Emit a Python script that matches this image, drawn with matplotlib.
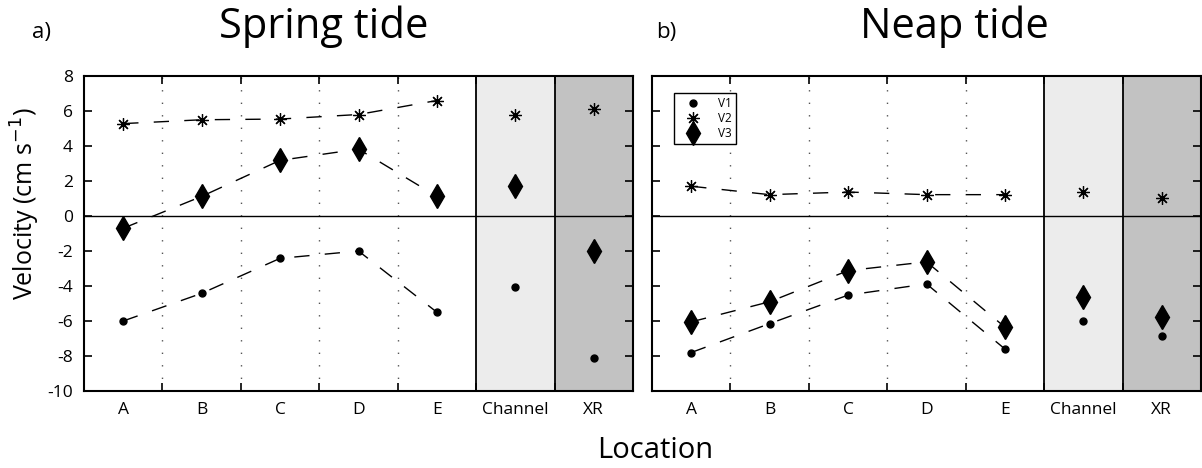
import matplotlib.pyplot as plt
from matplotlib.lines import Line2D

plt.rcParams['font.family'] = ['Open Sans', 'DejaVu Sans']
plt.rcParams['axes.unicode_minus'] = False

locations = ['A', 'B', 'C', 'D', 'E', 'Channel', 'XR']
pos = [1, 2, 3, 4, 5, 6, 7]

# spring tide
spring_v1 = [-6.0, -4.42, -2.42, -2.0, -5.5, -4.05, -8.12]
spring_v2 = [5.28, 5.5, 5.54, 5.8, 6.6, 5.75, 6.1]
spring_v3 = [-0.7, 1.12, 3.18, 3.82, 1.12, 1.73, -2.0]

# neap tide
neap_v1 = [-7.8, -6.15, -4.52, -3.88, -7.6, -6.0, -6.85]
neap_v2 = [1.7, 1.22, 1.37, 1.22, 1.22, 1.35, 1.05]
neap_v3 = [-6.05, -4.9, -3.12, -2.62, -6.35, -4.62, -5.77]

W, H = 1202, 468
fig = plt.figure(figsize=(W / 100, H / 100), dpi=100)
ax1 = fig.add_axes([84 / W, (H - 391) / H, 549 / W, 315 / H])
ax2 = fig.add_axes([652 / W, (H - 391) / H, 549 / W, 315 / H])

star = (8, 2, 0)
dash = (0, (11, 11))


def draw(ax, v1, v2, v3, labels):
    ax.axvspan(5.5, 6.5, color='#ececec', zorder=0)
    ax.axvspan(6.5, 7.5, color='#c2c2c2', zorder=0)
    for b in [1.5, 2.5, 3.5, 4.5]:
        ax.axvline(b, color='#555555', lw=1.0, linestyle=(0, (1, 8)), zorder=1)
    for b in [5.5, 6.5]:
        ax.axvline(b, color='black', lw=1.3, zorder=1)
    ax.axhline(0, color='black', lw=1.0, zorder=1)

    # dashed lines only through A..E
    for v in (v1, v2, v3):
        ax.plot(pos[:5], v[:5], color='black', lw=1.0, linestyle=dash, zorder=2)
    ax.plot(pos, v1, 'o', color='black', ms=5, linestyle='none', zorder=3)
    ax.plot(pos, v2, marker=star, color='black', ms=9, mew=0.9, linestyle='none', zorder=3)
    ax.plot(pos, v3, 'd', color='black', ms=12, linestyle='none', zorder=3)

    ax.set_xlim(0.5, 7.5)
    ax.set_ylim(-10, 8)
    ax.set_yticks(range(-10, 9, 2))
    ax.set_xticks([1.5, 2.5, 3.5, 4.5, 5.5, 6.5])
    ax.set_xticklabels([])
    ax.set_xticks(pos, minor=True)
    ax.set_xticklabels(locations, minor=True)
    ax.tick_params(which='major', direction='in', top=True, right=True,
                   length=6, width=1.2, labelsize=12.5, pad=8)
    ax.tick_params(which='minor', length=0, labelsize=12.5, pad=8)
    if not labels:
        ax.set_yticklabels([])
    for s in ax.spines.values():
        s.set_linewidth(1.5)


draw(ax1, spring_v1, spring_v2, spring_v3, True)
draw(ax2, neap_v1, neap_v2, neap_v3, False)

handles = [
    Line2D([], [], marker='o', color='black', ms=5, linestyle='none'),
    Line2D([], [], marker=star, color='black', ms=9, mew=0.9, linestyle='none'),
    Line2D([], [], marker='d', color='black', ms=12, linestyle='none'),
]
leg = ax2.legend(handles, ['V1', 'V2', 'V3'], loc='upper left',
                 bbox_to_anchor=(0.04, 0.946), borderaxespad=0, fontsize=8.5,
                 fancybox=False, framealpha=1, edgecolor='black',
                 handletextpad=0.8, labelspacing=0.15, borderpad=0.35,
                 handlelength=2.6)
leg.get_frame().set_linewidth(1.0)

fig.text(42 / W, 1 - 38 / H, 'a)', fontsize=16, ha='center', va='baseline')
fig.text(324 / W, 1 - 38 / H, 'Spring tide', fontsize=30, ha='center', va='baseline')
fig.text(666 / W, 1 - 38 / H, 'b)', fontsize=16, ha='center', va='baseline')
fig.text(954 / W, 1 - 38 / H, 'Neap tide', fontsize=30, ha='center', va='baseline')
fig.text(25 / W, 1 - 204 / H, 'Velocity (cm s$^{-1}$)', fontsize=18,
         rotation=90, ha='center', va='center')
fig.text(655 / W, 1 - 450 / H, 'Location', fontsize=21, ha='center', va='center')

fig.savefig('out.png', dpi=100)
